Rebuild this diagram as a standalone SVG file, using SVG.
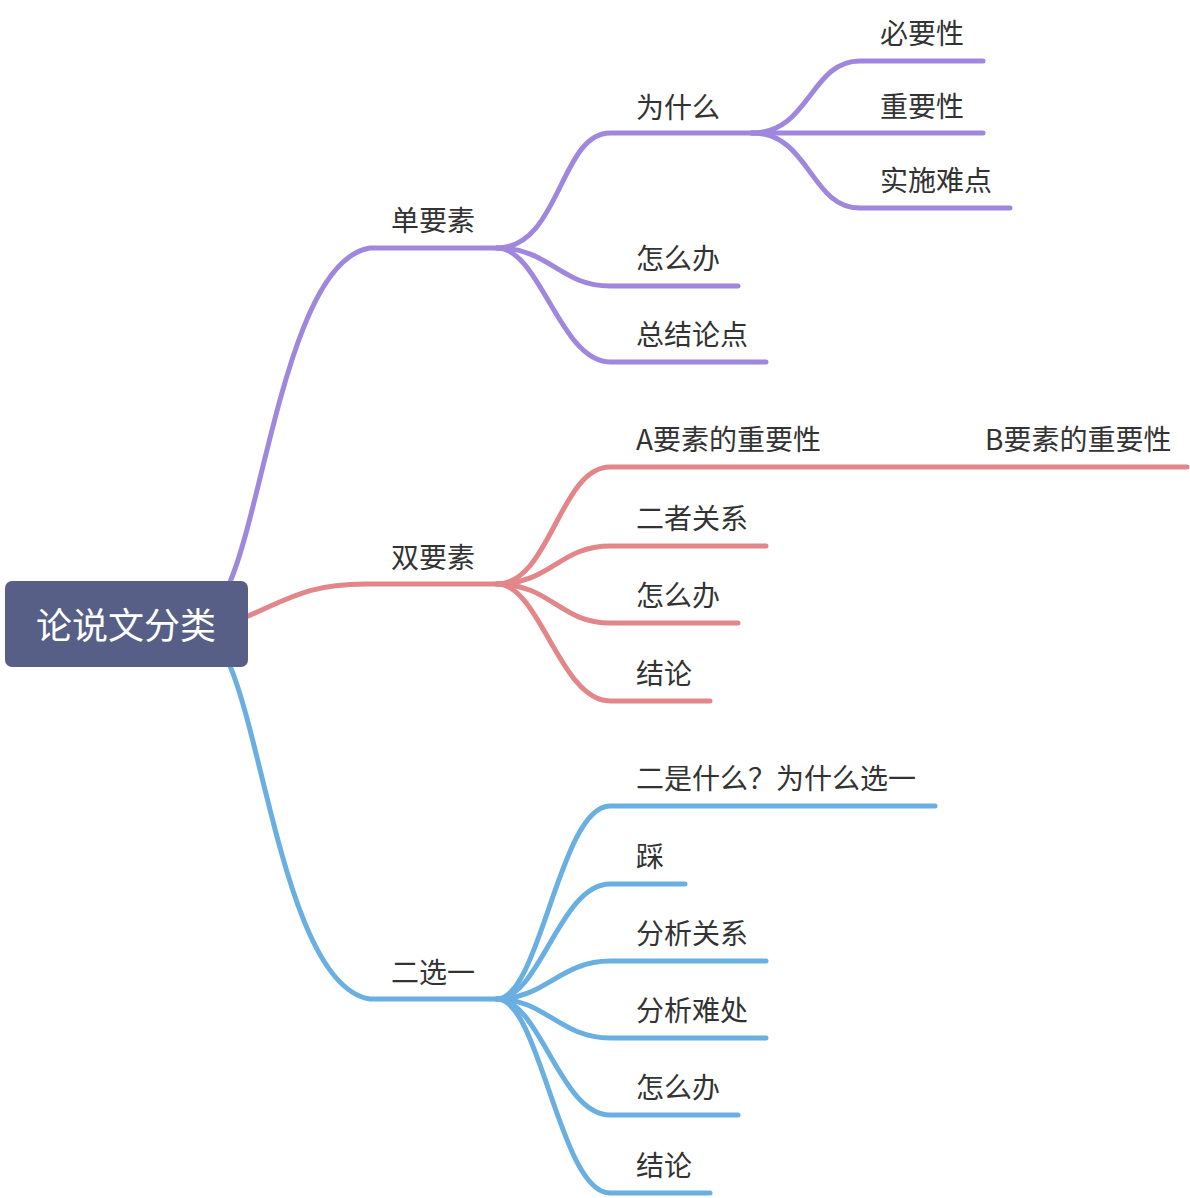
<svg xmlns="http://www.w3.org/2000/svg" width="1190" height="1198" viewBox="0 0 1190 1198">
<style>
.t{font-family:"Noto Sans CJK SC","Noto Sans",sans-serif;font-size:28px;fill:#333333}
.r{font-family:"Noto Sans CJK SC","Noto Sans",sans-serif;font-size:36px;fill:#ffffff}
.c{fill:none;stroke-width:5;stroke-linecap:round;stroke-linejoin:round}
.p{stroke:#a087de}
.d{stroke:#e2868a}
.b{stroke:#6aafe2}
</style>
<rect width="1190" height="1198" fill="#ffffff"/>
<g id="connectors">
<path class="c p" d="M230,582 C265,500 290,260 370,248 L497,248"/>
<path class="c d" d="M246,617 C290,598 310,584 365,584 L497,584"/>
<path class="c b" d="M230,666 C265,748 290,987 370,999 L497,999"/>
<path class="c p" d="M497,248 C560,248 560,133 610,133 L752,133"/>
<path class="c p" d="M497,248 C550,248 560,286 610,286 L738,286"/>
<path class="c p" d="M497,248 C540,248 560,362 610,362 L766,362"/>
<path class="c p" d="M752,133 C810,133 810,61 860,61 L983,61"/>
<path class="c p" d="M752,133 L983,133"/>
<path class="c p" d="M752,133 C810,133 810,208 860,208 L1010,208"/>
<path class="c d" d="M497,584 C550,584 560,467 610,467 L1187,467"/>
<path class="c d" d="M497,584 C550,584 560,546 610,546 L766,546"/>
<path class="c d" d="M497,584 C550,584 560,623 610,623 L738,623"/>
<path class="c d" d="M497,584 C540,584 560,701 610,701 L710,701"/>
<path class="c b" d="M497,999 C540,999 560,806 610,806 L935,806"/>
<path class="c b" d="M497,999 C540,999 560,884 610,884 L685,884"/>
<path class="c b" d="M497,999 C545,999 560,961 610,961 L766,961"/>
<path class="c b" d="M497,999 C545,999 560,1038 610,1038 L766,1038"/>
<path class="c b" d="M497,999 C540,999 560,1115 610,1115 L738,1115"/>
<path class="c b" d="M497,999 C540,999 560,1193 610,1193 L710,1193"/>
</g>
<g id="root">
<rect x="5" y="581" width="243" height="86" rx="7" fill="#585f86"/>
<text class="r" x="126" y="639" text-anchor="middle">论说文分类</text>
</g>
<g id="n-dan"><text class="t" x="391" y="231">单要素</text></g>
<g id="n-shuang"><text class="t" x="391" y="568">双要素</text></g>
<g id="n-er"><text class="t" x="391" y="983">二选一</text></g>
<g id="n-wsm"><text class="t" x="636" y="118">为什么</text></g>
<g id="n-zmb1"><text class="t" x="636" y="269">怎么办</text></g>
<g id="n-zjld"><text class="t" x="636" y="345">总结论点</text></g>
<g id="n-byx"><text class="t" x="880" y="44">必要性</text></g>
<g id="n-zyx"><text class="t" x="880" y="117">重要性</text></g>
<g id="n-ssnd"><text class="t" x="880" y="191">实施难点</text></g>
<g id="n-a"><text class="t" x="636" y="450">A要素的重要性</text></g>
<g id="n-b"><text class="t" x="985" y="450">B要素的重要性</text></g>
<g id="n-ezgx"><text class="t" x="636" y="529">二者关系</text></g>
<g id="n-zmb2"><text class="t" x="636" y="606">怎么办</text></g>
<g id="n-jl1"><text class="t" x="636" y="684">结论</text></g>
<g id="n-esm"><text class="t" x="636" y="789">二是什么？为什么选一</text></g>
<g id="n-cai"><text class="t" x="636" y="867">踩</text></g>
<g id="n-fxgx"><text class="t" x="636" y="944">分析关系</text></g>
<g id="n-fxnc"><text class="t" x="636" y="1021">分析难处</text></g>
<g id="n-zmb3"><text class="t" x="636" y="1098">怎么办</text></g>
<g id="n-jl2"><text class="t" x="636" y="1176">结论</text></g>
</svg>
